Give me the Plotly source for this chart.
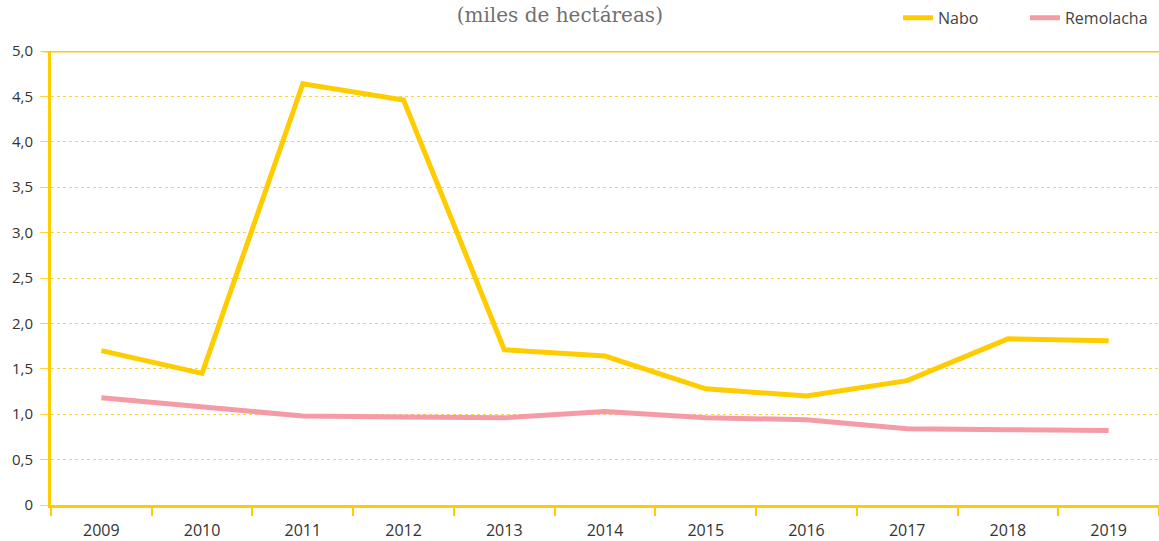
import plotly.graph_objects as go

years = ["2009", "2010", "2011", "2012", "2013", "2014", "2015", "2016", "2017", "2018", "2019"]
nabo = [1.70, 1.45, 4.64, 4.46, 1.71, 1.64, 1.28, 1.20, 1.37, 1.83, 1.81]
remolacha = [1.18, 1.08, 0.98, 0.97, 0.96, 1.03, 0.96, 0.94, 0.84, 0.83, 0.82]

y_ticks = [0, 0.5, 1.0, 1.5, 2.0, 2.5, 3.0, 3.5, 4.0, 4.5, 5.0]
y_labels = ["0", "0,5", "1,0", "1,5", "2,0", "2,5", "3,0", "3,5", "4,0", "4,5", "5,0"]

YELLOW = "#FFCC00"
GRID = "#FFD53F"
PINK = "#F59BA6"
TEXT = "#333333"

fig = go.Figure()
fig.add_trace(go.Scatter(x=years, y=nabo, name="Nabo", mode="lines",
                         line=dict(color=YELLOW, width=5)))
fig.add_trace(go.Scatter(x=years, y=remolacha, name="Remolacha", mode="lines",
                         line=dict(color=PINK, width=5)))

fig.update_layout(
    width=1159, height=541,
    margin=dict(l=51, r=0, t=51, b=36, autoexpand=False),
    paper_bgcolor="white", plot_bgcolor="white",
    font=dict(family="Open Sans, Noto Sans, sans-serif", size=15, color=TEXT),
    title=dict(text="(miles de hectáreas)", x=0.483, xanchor="center", y=0.972, yanchor="middle",
               font=dict(family="DejaVu Serif, Liberation Serif, serif", size=20, color="#707070")),
    legend=dict(orientation="h", x=0.7644, xanchor="left", y=1.073, yanchor="middle",
                font=dict(size=16, color="#444444"), itemwidth=30, entrywidth=82,
                bgcolor="rgba(0,0,0,0)"),
    showlegend=True,
)

fig.update_xaxes(
    type="category", showgrid=False, zeroline=False,
    showline=True, linecolor=YELLOW, linewidth=3,
    ticks="outside", tickson="boundaries", ticklen=8, tickcolor=YELLOW, tickwidth=2,
    tickfont=dict(size=16, color=TEXT), ticklabelstandoff=9, range=[-0.5, 10.5],
)
fig.update_yaxes(
    range=[0, 5.0], tickvals=y_ticks, ticktext=y_labels,
    showgrid=True, gridcolor=GRID, gridwidth=1, griddash="dot",
    showline=True, linecolor=YELLOW, linewidth=3, zeroline=False,
    ticks="outside", ticklen=8, tickcolor=GRID, tickwidth=1,
    tickfont=dict(size=15, color=TEXT), ticklabelstandoff=4,
)

# solid top border at 5,0
fig.add_shape(type="line", xref="paper", yref="y", x0=-0.007, x1=1, y0=5.0, y1=5.0,
              line=dict(color=YELLOW, width=3))

fig.write_html("out.html")
